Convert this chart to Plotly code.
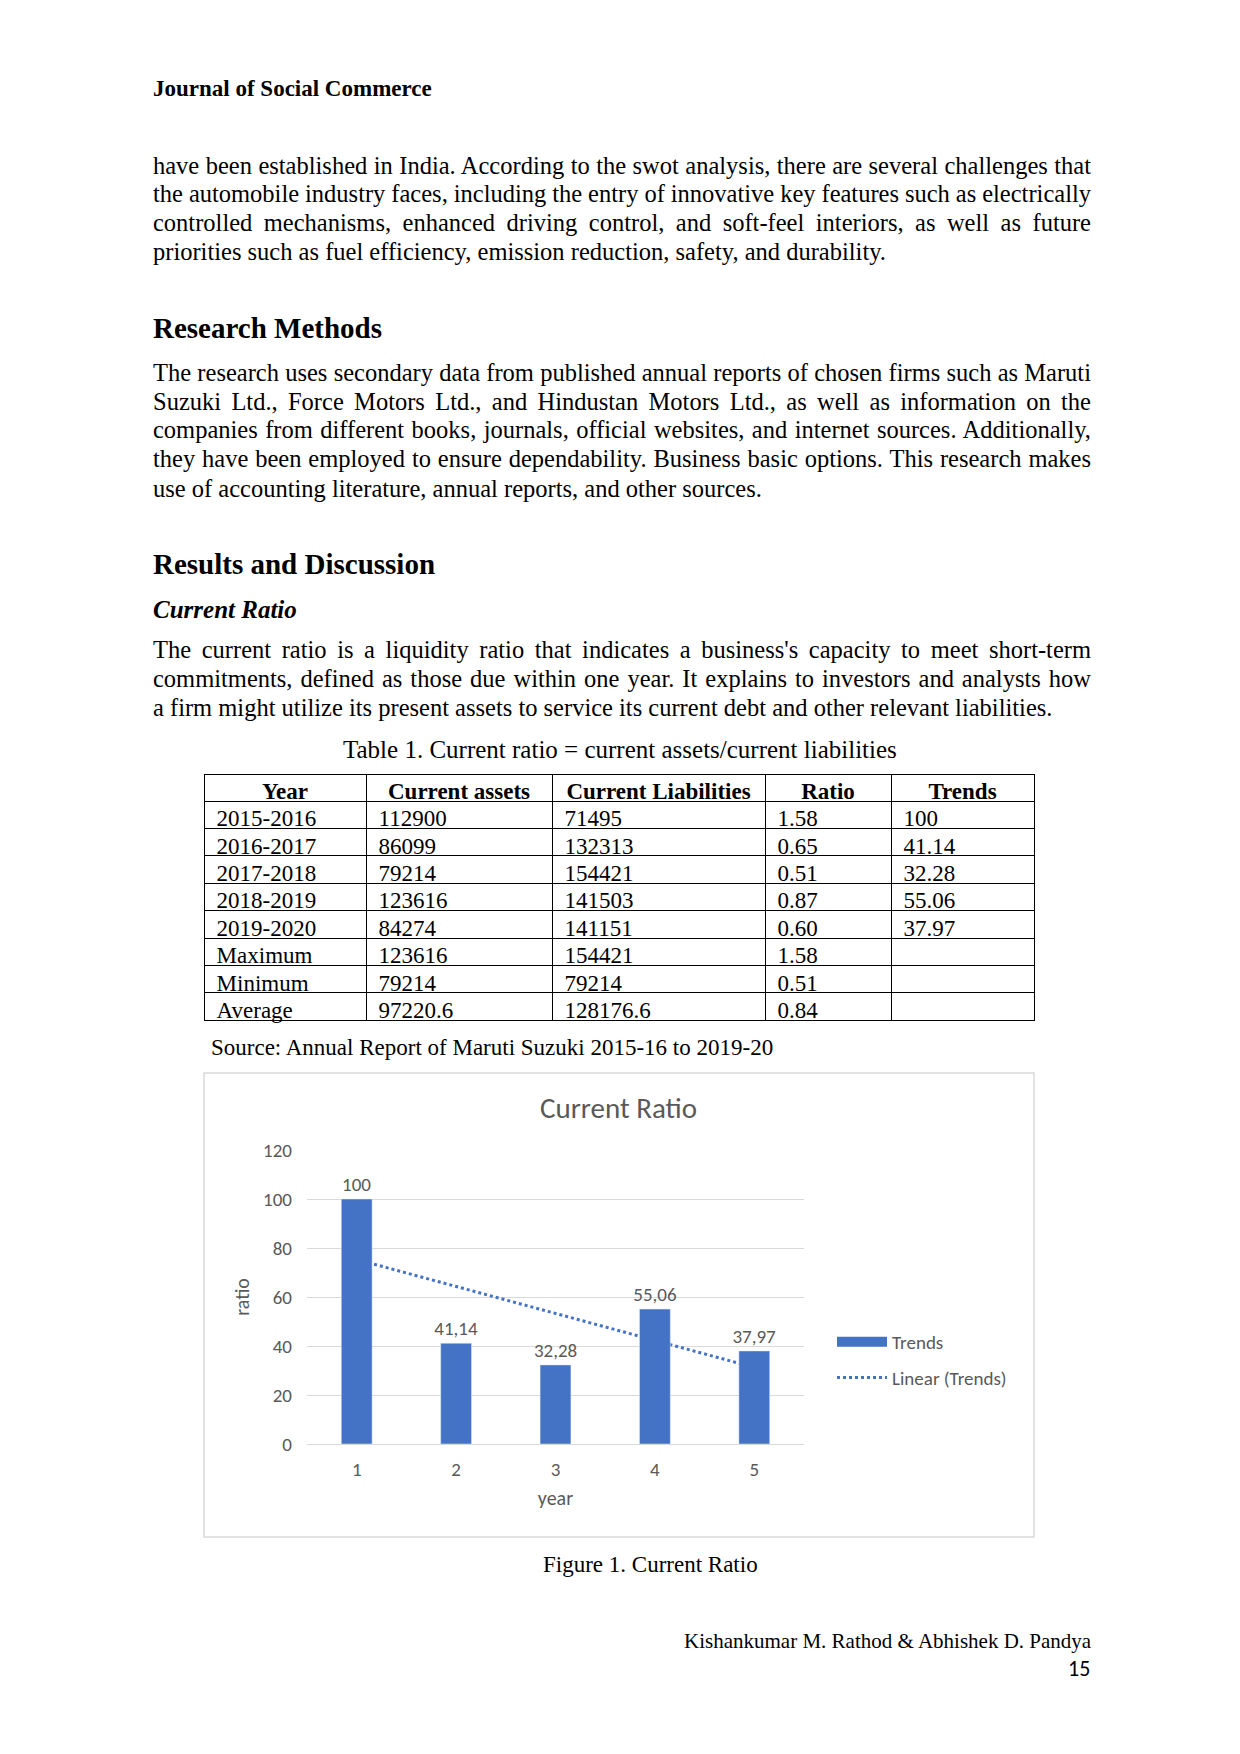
import json
import numpy as np
import plotly.graph_objects as go

W, H = 1240, 1754

# ---- page text ----
header_text = "Journal of Social Commerce"
para1_lines = [
    "have been established in India. According to the swot analysis, there are several challenges that",
    "the automobile industry faces, including the entry of innovative key features such as electrically",
    "controlled mechanisms, enhanced driving control, and soft-feel interiors, as well as future",
    "priorities such as fuel efficiency, emission reduction, safety, and durability.",
]
heading_methods = "Research Methods"
para2_lines = [
    "The research uses secondary data from published annual reports of chosen firms such as Maruti",
    "Suzuki Ltd., Force Motors Ltd., and Hindustan Motors Ltd., as well as information on the",
    "companies from different books, journals, official websites, and internet sources. Additionally,",
    "they have been employed to ensure dependability. Business basic options. This research makes",
    "use of accounting literature, annual reports, and other sources.",
]
heading_results = "Results and Discussion"
subheading = "Current Ratio"
para3_lines = [
    "The current ratio is a liquidity ratio that indicates a business's capacity to meet short-term",
    "commitments, defined as those due within one year. It explains to investors and analysts how",
    "a firm might utilize its present assets to service its current debt and other relevant liabilities.",
]
table_caption = "Table 1. Current ratio = current assets/current liabilities"
source_text = "Source: Annual Report of Maruti Suzuki 2015-16 to 2019-20"
chart_title = "Current Ratio"
figure_caption = "Figure 1. Current Ratio"
footer_authors = "Kishankumar M. Rathod & Abhishek D. Pandya"
page_number = "15"

# ---- table data ----
table_header = ["Year", "Current assets", "Current Liabilities", "Ratio", "Trends"]
row_labels = ["2015-2016", "2016-2017", "2017-2018", "2018-2019", "2019-2020",
              "Maximum", "Minimum", "Average"]
current_assets = ["112900", "86099", "79214", "123616", "84274", "123616", "79214", "97220.6"]
current_liabilities = ["71495", "132313", "154421", "141503", "141151", "154421", "79214", "128176.6"]
ratio_col = ["1.58", "0.65", "0.51", "0.87", "0.60", "1.58", "0.51", "0.84"]
trends_col = ["100", "41.14", "32.28", "55.06", "37.97", "", "", ""]

# ---- chart data ----
year_idx = [1, 2, 3, 4, 5]
trends = [100, 41.14, 32.28, 55.06, 37.97]

BLUE = "#4472C4"
GREY = "#595959"
SERIF = "Liberation Serif, Times New Roman, serif"
SANS = "Carlito, Lato, Open Sans, sans-serif"


def fx(px):
    return px / W


def fy(py):
    return 1 - py / H


fig = go.Figure()

# table
fig.add_trace(go.Table(
    domain=dict(x=[fx(204), fx(1034)], y=[fy(1040), fy(774)]),
    columnwidth=[162, 186, 213, 126, 143],
    header=dict(values=table_header,
                align="center", height=27,
                font=dict(family=SERIF, size=23, color="black", weight="bold"),
                fill_color="white", line=dict(color="black", width=1)),
    cells=dict(values=[row_labels, current_assets, current_liabilities, ratio_col, trends_col],
               align="left", height=27.4, prefix="\u2009",
               font=dict(family=SERIF, size=23, color="black"),
               fill_color="white", line=dict(color="black", width=1)),
))

# bars on an overlay axis so the trendline sits behind them
labels = [("%g" % v).replace(".", ",") for v in trends]
fig.add_trace(go.Bar(
    x=year_idx, y=trends, name="Trends", xaxis="x2", yaxis="y2",
    marker_color=BLUE, width=0.31, text=labels, textposition="outside",
    constraintext="none", textfont=dict(family=SANS, size=19, color=GREY),
    cliponaxis=False, showlegend=False, legendgroup="a",
))
# wide swatch for the bar series in the legend
fig.add_trace(go.Scatter(
    x=[None], y=[None], mode="lines", name="Trends",
    line=dict(color=BLUE, width=10), legendgroup="a",
))

slope, intercept = np.polyfit(year_idx, trends, 1)
fit_x = [year_idx[0], year_idx[-1]]
fit_y = [slope * v + intercept for v in fit_x]
fig.add_trace(go.Scatter(
    x=fit_x, y=fit_y, mode="lines", name="Linear (Trends)",
    line=dict(color=BLUE, width=3, dash="dot"), legendgroup="b",
))

axis_font = dict(family=SANS, size=19, color=GREY)
title_font = dict(family=SANS, size=20, color=GREY)
fig.update_layout(
    width=W, height=H,
    margin=dict(l=0, r=0, t=0, b=0, autoexpand=False),
    paper_bgcolor="white", plot_bgcolor="white",
    showlegend=True,
    legend=dict(x=fx(832), y=fy(1323), xanchor="left", yanchor="top",
                font=dict(family=SANS, size=19, color=GREY), itemwidth=50,
                tracegroupgap=8, bgcolor="rgba(0,0,0,0)"),
    xaxis=dict(domain=[fx(307), fx(804)], range=[0.5, 5.5], tickvals=year_idx,
               showgrid=False, zeroline=False, showline=False, ticks="",
               automargin=False, tickfont=axis_font, ticklabelstandoff=12,
               title=dict(text="year", font=title_font, standoff=10)),
    yaxis=dict(domain=[fy(1444), fy(1150)], range=[0, 120], dtick=20,
               showgrid=True, gridcolor="#D9D9D9", gridwidth=1.3,
               zeroline=True, zerolinecolor="#D9D9D9", zerolinewidth=1.3,
               showline=False, ticks="", automargin=False,
               tickfont=axis_font, ticklabelstandoff=14,
               title=dict(text="ratio", font=title_font, standoff=8)),
    xaxis2=dict(overlaying="x", range=[0.5, 5.5], visible=False, anchor="y2"),
    yaxis2=dict(overlaying="y", range=[0, 120], visible=False, anchor="x2"),
)

# chart frame
fig.add_shape(type="rect", xref="paper", yref="paper",
              x0=fx(204), x1=fx(1034), y0=fy(1537), y1=fy(1073),
              line=dict(color="#D9D9D9", width=1.5), layer="below")


def add_text(text, x, y, size, family=SERIF, color="black", xanchor="left"):
    fig.add_annotation(text=text, x=fx(x), y=fy(y), xref="paper", yref="paper",
                       xanchor=xanchor, yanchor="middle", align=xanchor,
                       showarrow=False, font=dict(family=family, size=size, color=color))


LEFT = 151
BODY = 24.5
add_text("<b>%s</b>" % header_text, LEFT, 88, 23)
for i, line in enumerate(para1_lines):
    add_text(line, LEFT, 165 + i * 29, BODY)
add_text("<b>%s</b>" % heading_methods, LEFT, 328, 29)
for i, line in enumerate(para2_lines):
    add_text(line, LEFT, 372 + i * 29, BODY)
add_text("<b>%s</b>" % heading_results, LEFT, 564, 29)
add_text("<b><i>%s</i></b>" % subheading, LEFT, 609, 25)
for i, line in enumerate(para3_lines):
    add_text(line, LEFT, 649 + i * 29, BODY)
add_text(table_caption, 620, 749, 25, xanchor="center")
add_text(source_text, 209, 1047, 23)
add_text(chart_title, 618, 1108, 29, family=SANS, color=GREY, xanchor="center")
add_text(figure_caption, 650, 1564, 23, xanchor="center")
add_text(footer_authors, 1094, 1641, 21, xanchor="right")
add_text(page_number, 1092, 1668, 22, family=SANS, xanchor="right")

# justify full paragraph lines (all but the last line of each paragraph)
justified = para1_lines[:-1] + para2_lines[:-1] + para3_lines[:-1]
post = """
document.body.style.margin = '0';
var gd = document.getElementById('{plot_id}');
var lines = %s;
gd.querySelectorAll('text.annotation-text').forEach(function (t) {
  var s = t.textContent;
  if (lines.indexOf(s) < 0) return;
  var gaps = s.split(' ').length - 1;
  var w = t.getComputedTextLength();
  t.style.wordSpacing = ((%d - w) / gaps) + 'px';
});
""" % (json.dumps(justified), 1089 - LEFT)

fig.write_html("out.html", post_script=post, config={"displayModeBar": False})
